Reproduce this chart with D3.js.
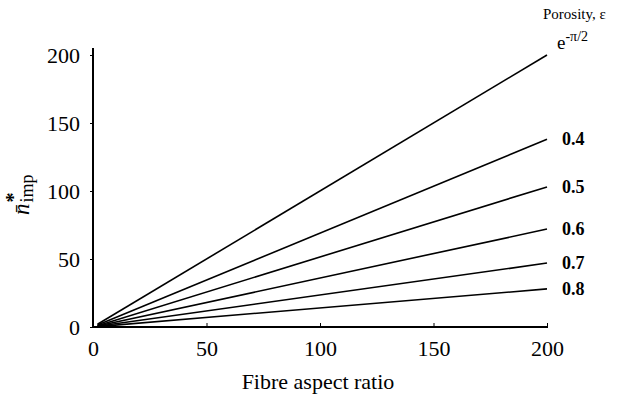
<!DOCTYPE html>
<html>
<head>
<meta charset="utf-8">
<script src="https://cdn.jsdelivr.net/npm/d3@7"></script>
<style>
  body { margin: 0; background: #fff; }
  text { font-family: "Liberation Serif", "Times New Roman", serif; fill: #000; }
</style>
</head>
<body>
<div id="chart"></div>
<script>
// porosity labels, top to bottom
var porosity = ["e", "0.4", "0.5", "0.6", "0.7", "0.8"];
// line start (aspect ratio, n) and end values
var startX = [2, 2, 2, 2, 2, 2];
var startY = [2, 1.4, 1, 0.7, 0.5, 0.3];
var endX = [200, 200, 200, 200, 200, 200];
var endY = [200, 138, 103, 72, 47, 28];
var xTicks = [0, 50, 100, 150, 200];
var yTicks = [0, 50, 100, 150, 200];

var width = 620, height = 395;

var svg = d3.select("#chart")
    .append("svg")
    .attr("width", width)
    .attr("height", height);

var x = d3.scaleLinear().domain([0, 200]).range([93, 547]);
var y = d3.scaleLinear().domain([0, 200]).range([327, 55]);

//x axis
var xAxis = svg.append("g")
    .attr("transform", "translate(0," + y(0) + ")")
    .call(d3.axisBottom(x).tickValues(xTicks).tickSizeInner(-4).tickSizeOuter(0).tickPadding(13));
xAxis.select(".domain").attr("stroke-width", 2).attr("d", "M" + x(0) + ",0H" + (x(200) + 1));
xAxis.selectAll(".tick line").attr("stroke-width", 1);
xAxis.selectAll(".tick text").attr("font-size", 22).attr("font-family", "Liberation Serif");

//y axis
var yAxis = svg.append("g")
    .attr("transform", "translate(" + x(0) + ",0)")
    .call(d3.axisLeft(y).tickValues(yTicks).tickSizeInner(3).tickSizeOuter(0).tickPadding(10));
yAxis.select(".domain").attr("stroke-width", 2).attr("d", "M0," + (y(0) + 1) + "V" + (y(200) - 7));
yAxis.selectAll(".tick line").attr("stroke-width", 1);
yAxis.selectAll(".tick text").attr("font-size", 22).attr("font-family", "Liberation Serif");

//lines
var lines = porosity.map(function(p, i) {
    return { label: p, pts: [[startX[i], startY[i]], [endX[i], endY[i]]] };
});

var line = d3.line()
    .x(function(d) { return x(d[0]); })
    .y(function(d) { return y(d[1]); });

svg.selectAll("path.series")
    .data(lines)
    .enter()
    .append("path")
    .attr("class", "series")
    .attr("d", function(d) { return line(d.pts); })
    .attr("fill", "none")
    .attr("stroke", "#000")
    .attr("stroke-width", 1.6);

//line labels
svg.selectAll("text.lab")
    .data(lines.slice(1))
    .enter()
    .append("text")
    .attr("class", "lab")
    .attr("x", 562)
    .attr("y", function(d) { return y(d.pts[1][1]) + 6; })
    .attr("font-size", 18)
    .attr("font-weight", "bold")
    .text(function(d) { return d.label; });

var topLab = svg.append("text")
    .attr("x", 557)
    .attr("y", 49)
    .attr("font-size", 19);
topLab.append("tspan").text("e");
topLab.append("tspan").attr("font-size", 14).attr("dy", -8).text("-\u03c0/2");

svg.append("text")
    .attr("x", 543)
    .attr("y", 19)
    .attr("font-size", 15)
    .text("Porosity, \u03b5");

//axis titles
svg.append("text")
    .attr("x", 318)
    .attr("y", 389)
    .attr("text-anchor", "middle")
    .attr("font-size", 22)
    .text("Fibre aspect ratio");

var yl = svg.append("text")
    .attr("transform", "translate(29,215) rotate(-90)")
    .attr("font-size", 23);
yl.append("tspan").attr("font-style", "italic").text("n\u0304");
yl.append("tspan").attr("font-size", 20).attr("font-weight", "bold").attr("dy", -9).attr("dx", 1).text("*");
yl.append("tspan").attr("font-size", 18).attr("dy", 13).attr("dx", -10).text("imp");
</script>
</body>
</html>
